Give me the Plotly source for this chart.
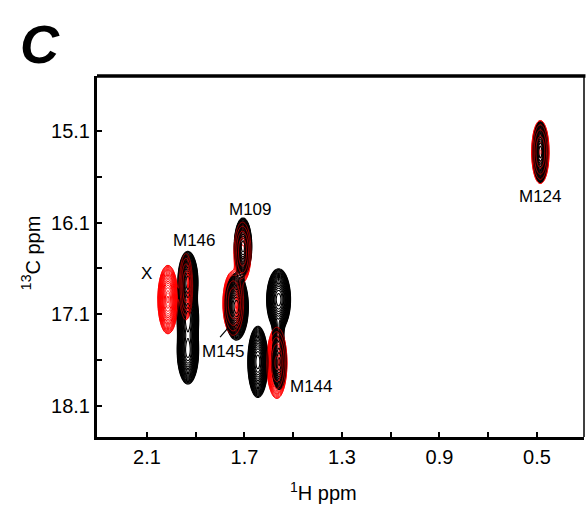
import numpy as np
import plotly.graph_objects as go

# ---- data (peak centres / widths in ppm) ----
black_h   = [0.486, 1.932, 1.932, 1.932, 1.706, 1.733, 1.560, 1.562, 1.558, 1.645]
black_c   = [15.33, 16.75, 17.15, 17.50, 16.36, 17.02, 16.94, 17.28, 17.62, 17.62]
black_sh  = [0.012, 0.016, 0.017, 0.017, 0.014, 0.019, 0.019, 0.010, 0.014, 0.016]
black_sc  = [0.128, 0.13, 0.13, 0.14, 0.12, 0.14, 0.13, 0.10, 0.14, 0.15]
black_amp = [1.0, 1.0, 1.0, 1.0, 1.0, 1.0, 1.0, 0.3, 0.35, 1.0]

red_h   = [0.486, 2.014, 1.940, 1.708, 1.746, 1.567]
red_c   = [15.33, 16.94, 16.80, 16.42, 16.98, 17.63]
red_sh  = [0.014, 0.016, 0.011, 0.014, 0.017, 0.016]
red_sc  = [0.135, 0.144, 0.144, 0.13, 0.14, 0.15]
red_amp = [0.9, 1.0, 0.8, 0.8, 0.8, 1.0]

label_text = ["M124", "M109", "M146", "X", "M145", "M144"]
label_h    = [0.485, 1.677, 1.903, 2.100, 1.784, 1.427]
label_c    = [15.82, 15.96, 16.30, 16.66, 17.51, 17.89]

x_ticks = [2.1, 1.7, 1.3, 0.9, 0.5]
y_ticks = [15.1, 16.1, 17.1, 18.1]

# ---- spectrum grid ----
gx = np.concatenate([np.arange(0.40, 0.60, 0.004), np.arange(1.45, 2.15, 0.004)])
gy = np.arange(14.80, 18.30, 0.012)
X, Y = np.meshgrid(gx, gy)


def spectrum(hs, cs, shs, scs, amps):
    z = np.zeros_like(X)
    for h, c, sh, sc, a in zip(hs, cs, shs, scs, amps):
        z += a * np.exp(-((X - h) ** 2) / (2 * sh ** 2) - ((Y - c) ** 2) / (2 * sc ** 2))
    return np.round(np.log10(z + 1e-6), 3)


zb = spectrum(black_h, black_c, black_sh, black_sc, black_amp)
zr = spectrum(red_h, red_c, red_sh, red_sc, red_amp)

lo = np.log10(0.035)


def ctrace(z, color, size, width):
    return go.Contour(
        x=gx, y=gy, z=z, showscale=False, hoverinfo="skip",
        contours=dict(coloring="none", start=lo, end=0.0, size=size, showlabels=False),
        line=dict(color=color, width=width, smoothing=1.0),
    )


fig = go.Figure()
fig.add_trace(ctrace(zr, "#ff0000", 0.08, 1.0))
fig.add_trace(ctrace(zb, "#000000", 0.07, 1.1))
fig.add_trace(ctrace(zr, "#ff0000", 0.35, 0.6))

FONT = "Arial, Liberation Sans, sans-serif"

for t, h, c in zip(label_text, label_h, label_c):
    fig.add_annotation(x=h, y=c, text=t, showarrow=False, xanchor="center", yanchor="middle",
                       font=dict(family=FONT, size=17, color="black"))

# leader line for M145
fig.add_shape(type="line", x0=1.800, y0=17.35, x1=1.767, y1=17.25,
              line=dict(color="black", width=1.2))

# frame: thick top, thin right
fig.add_shape(type="line", xref="paper", yref="paper", x0=0, x1=1.003, y0=1, y1=1,
              line=dict(color="black", width=3.5))
fig.add_shape(type="line", xref="paper", yref="paper", x0=1, x1=1, y0=0, y1=1,
              line=dict(color="black", width=1.5))

fig.add_annotation(xref="paper", yref="paper", x=0.466, y=-0.152,
                   xanchor="center", yanchor="middle",
                   text="<sup>1</sup>H ppm", showarrow=False,
                   font=dict(family=FONT, size=20, color="black"))
fig.add_annotation(xref="paper", yref="paper", x=-0.135, y=0.51,
                   xanchor="center", yanchor="middle",
                   text="<sup>13</sup>C ppm", showarrow=False, textangle=-90,
                   font=dict(family=FONT, size=20, color="black"))
fig.add_annotation(xref="paper", yref="paper", x=-0.117, y=1.089,
                   xanchor="center", yanchor="middle",
                   text="<b><i>C</i></b>", showarrow=False,
                   font=dict(family=FONT, size=54, color="black"))

fig.update_xaxes(range=[2.305, 0.307], tickvals=x_ticks, ticktext=[f"{v:.1f}" for v in x_ticks],
                 ticks="inside", ticklen=5, tickwidth=1.5, tickcolor="black",
                 showline=True, linewidth=3, linecolor="black", mirror=False,
                 showgrid=False, zeroline=False,
                 minor=dict(ticks="inside", ticklen=5, tickwidth=1.5, tickcolor="black",
                            tickvals=[1.9, 1.5, 1.1, 0.7], showgrid=False),
                 tickfont=dict(family=FONT, size=20, color="black"))
fig.update_yaxes(range=[18.44, 14.5], tickvals=y_ticks, ticktext=[f"{v:.1f}" for v in y_ticks],
                 ticks="inside", ticklen=5, tickwidth=1.5, tickcolor="black",
                 showline=True, linewidth=3, linecolor="black", mirror=False,
                 showgrid=False, zeroline=False,
                 minor=dict(ticks="inside", ticklen=5, tickwidth=1.5, tickcolor="black",
                            tickvals=[15.6, 16.6, 17.6], showgrid=False),
                 tickfont=dict(family=FONT, size=20, color="black"))

fig.update_layout(width=586, height=506, margin=dict(l=97, r=2, t=76, b=69),
                  paper_bgcolor="white", plot_bgcolor="white", showlegend=False)

fig.write_html("out.html")
